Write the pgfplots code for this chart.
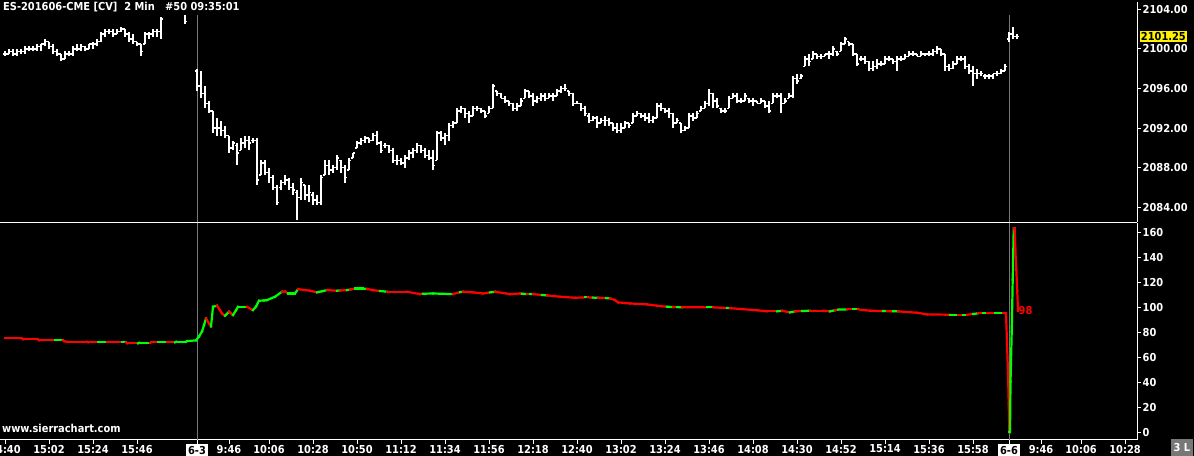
\documentclass[border=0pt]{standalone}
\usepackage{pgfplots}
\pgfplotsset{compat=1.18}
\usepackage{pgfplotstable}
\usepackage{fontspec}
\setmainfont{DejaVu Sans Condensed}
\definecolor{sgray}{RGB}{120,120,120}
\definecolor{lgreen}{RGB}{0,255,0}
\definecolor{lred}{RGB}{255,0,0}

\pgfplotstableread{
x o h l c
5 2099.50 2099.75 2099.25 2099.50
9 2099.50 2100.00 2099.50 2099.75
13 2099.75 2100.00 2099.25 2099.50
17 2099.50 2100.00 2099.25 2099.75
21 2099.75 2100.00 2099.50 2099.75
25 2099.75 2100.25 2099.50 2100.00
29 2100.00 2100.25 2099.75 2100.00
33 2100.00 2100.25 2099.75 2100.00
37 2100.00 2100.50 2099.75 2100.25
41 2100.25 2100.50 2099.75 2100.50
45 2100.50 2101.00 2100.25 2100.75
49 2100.75 2100.75 2100.00 2100.25
53 2100.25 2100.50 2099.50 2099.75
57 2099.75 2100.00 2099.25 2099.50
61 2099.50 2099.50 2098.75 2099.00
65 2099.00 2099.75 2099.00 2099.50
69 2099.50 2099.75 2099.25 2099.50
73 2099.50 2100.25 2099.25 2100.00
77 2100.00 2100.50 2099.75 2100.00
81 2100.00 2100.50 2099.75 2100.25
85 2100.25 2100.25 2099.75 2100.00
89 2100.00 2100.50 2100.00 2100.50
93 2100.50 2100.75 2100.00 2100.50
97 2100.50 2101.00 2100.25 2100.75
101 2100.75 2101.75 2100.75 2101.50
105 2101.50 2102.00 2101.25 2101.75
109 2101.75 2102.00 2101.50 2101.75
113 2101.75 2102.00 2101.25 2101.50
117 2101.50 2102.00 2101.50 2101.75
121 2101.75 2102.25 2101.75 2102.00
125 2102.00 2102.00 2101.25 2101.50
129 2101.50 2101.75 2100.75 2101.00
133 2101.00 2101.50 2100.50 2100.75
137 2100.75 2100.75 2100.25 2100.50
141 2100.50 2100.50 2099.25 2099.75
145 2100.50 2101.75 2100.50 2101.50
149 2101.50 2101.75 2101.00 2101.50
153 2101.50 2102.00 2101.25 2101.75
157 2101.75 2102.00 2101.25 2101.75
161 2101.75 2103.25 2101.00 2103.00
165 2104.25 2105.00 2103.75 2104.50
169 2104.50 2105.50 2104.00 2105.00
173 2105.00 2105.25 2103.75 2104.00
177 2104.50 2105.50 2104.25 2105.00
181 2104.75 2105.00 2103.75 2104.00
185 2103.50 2104.00 2102.50 2102.75
189 2104.00 2104.75 2103.75 2104.50
193 2104.50 2105.00 2104.00 2104.75
197 2097.75 2098.00 2095.75 2096.25
201 2096.25 2097.75 2095.00 2095.50
205 2095.50 2096.25 2094.00 2094.50
209 2094.50 2094.75 2093.50 2093.75
213 2093.75 2093.75 2091.50 2092.00
217 2092.00 2093.00 2091.25 2092.00
221 2092.00 2092.75 2091.25 2091.75
225 2091.75 2092.25 2091.00 2091.25
229 2091.25 2091.25 2089.50 2090.00
233 2090.00 2090.75 2089.75 2090.50
237 2090.25 2090.50 2088.25 2089.50
241 2089.75 2091.00 2089.75 2090.50
245 2090.50 2091.25 2090.00 2090.75
249 2090.75 2091.25 2089.75 2090.50
253 2090.75 2091.00 2090.50 2090.75
257 2090.75 2091.00 2086.25 2086.75
261 2087.25 2088.75 2087.25 2088.50
265 2088.50 2088.75 2087.25 2087.50
269 2087.50 2088.00 2086.50 2087.00
273 2087.00 2087.25 2085.75 2086.00
277 2086.00 2086.25 2084.25 2084.50
281 2086.00 2086.75 2085.75 2086.50
285 2086.50 2087.25 2086.25 2086.75
289 2086.75 2087.00 2085.75 2086.00
293 2086.00 2086.50 2085.25 2085.75
297 2085.50 2085.75 2082.75 2085.00
301 2085.00 2087.00 2084.75 2086.50
305 2086.25 2086.25 2084.75 2085.25
309 2085.25 2086.25 2084.50 2085.50
313 2085.25 2085.50 2084.25 2084.75
317 2084.75 2085.25 2084.25 2084.50
321 2084.50 2087.25 2084.25 2087.00
325 2087.25 2088.75 2087.25 2088.25
329 2088.25 2088.75 2087.25 2087.75
333 2087.75 2088.25 2087.50 2088.00
337 2088.00 2089.25 2087.75 2089.00
341 2088.75 2088.75 2087.50 2088.00
345 2088.00 2088.25 2086.50 2087.00
349 2087.75 2089.00 2087.75 2088.75
353 2089.00 2089.50 2089.00 2089.50
357 2090.00 2090.75 2090.00 2090.50
361 2090.50 2091.00 2090.25 2090.75
365 2090.75 2091.25 2090.50 2091.00
369 2091.00 2091.00 2090.50 2090.75
373 2090.75 2091.50 2090.75 2091.25
377 2091.25 2091.75 2090.25 2090.50
381 2090.50 2090.75 2089.50 2089.75
385 2090.25 2090.50 2090.00 2090.25
389 2090.25 2090.25 2089.50 2089.75
393 2089.75 2090.00 2088.50 2088.75
397 2088.75 2089.25 2088.25 2088.75
401 2088.75 2089.00 2088.25 2088.50
405 2088.50 2089.25 2088.00 2089.00
409 2089.00 2089.75 2088.75 2089.50
413 2089.50 2090.00 2089.00 2089.75
417 2089.75 2090.50 2089.50 2090.25
421 2090.25 2090.25 2089.50 2089.75
425 2089.75 2090.00 2089.00 2089.25
429 2089.25 2089.75 2088.75 2089.00
433 2089.00 2089.75 2087.75 2088.25
437 2088.75 2091.75 2088.75 2091.50
441 2091.50 2091.75 2090.75 2091.00
445 2091.00 2091.50 2090.25 2091.25
449 2091.25 2092.50 2090.75 2092.25
453 2092.25 2092.75 2092.00 2092.50
457 2092.50 2094.00 2092.50 2093.75
461 2093.75 2094.25 2093.50 2094.00
465 2094.00 2094.00 2093.00 2093.50
469 2093.50 2093.75 2092.50 2093.25
473 2093.25 2094.25 2093.25 2094.00
477 2094.00 2094.25 2093.75 2094.00
481 2094.00 2094.00 2093.50 2093.75
485 2093.75 2093.75 2093.00 2093.25
489 2093.50 2094.25 2093.50 2094.00
493 2094.00 2096.50 2094.00 2096.25
497 2095.75 2095.75 2095.25 2095.50
501 2095.50 2095.50 2095.00 2095.00
505 2095.00 2095.25 2094.50 2094.75
509 2094.75 2094.75 2094.25 2094.50
513 2094.50 2094.50 2093.75 2094.00
517 2094.00 2094.50 2093.75 2094.25
521 2094.25 2095.00 2094.25 2094.75
525 2095.00 2096.00 2095.00 2095.75
529 2095.75 2095.75 2095.00 2095.25
533 2095.25 2095.50 2094.25 2094.75
537 2094.75 2095.25 2094.50 2095.00
541 2095.00 2095.50 2094.75 2095.25
545 2095.25 2095.50 2094.75 2095.00
549 2095.00 2095.50 2095.00 2095.25
553 2095.25 2095.50 2094.75 2095.25
557 2095.25 2096.00 2095.25 2095.75
561 2095.75 2096.25 2095.50 2096.00
565 2096.00 2096.50 2095.75 2096.00
569 2095.75 2095.75 2095.25 2095.50
573 2095.50 2095.50 2094.25 2094.50
577 2094.50 2094.75 2094.50 2094.50
581 2094.50 2094.50 2093.75 2094.00
585 2094.00 2094.25 2093.25 2093.50
589 2093.25 2093.50 2092.50 2092.75
593 2092.75 2093.25 2092.75 2093.00
597 2093.00 2093.25 2092.00 2092.50
601 2092.50 2093.00 2092.50 2092.75
605 2092.75 2093.25 2092.25 2092.75
609 2092.75 2093.00 2092.25 2092.50
613 2092.50 2092.50 2091.75 2092.00
617 2092.00 2092.50 2091.50 2091.75
621 2091.75 2092.50 2091.50 2092.00
625 2092.00 2092.75 2092.00 2092.50
629 2092.50 2092.50 2092.00 2092.25
633 2092.50 2093.50 2092.50 2093.25
637 2093.25 2093.75 2093.25 2093.50
641 2093.50 2093.50 2093.00 2093.25
645 2093.25 2093.50 2092.75 2093.00
649 2093.00 2093.50 2092.50 2092.75
653 2092.75 2093.25 2092.50 2093.00
657 2093.00 2094.50 2093.00 2094.25
661 2094.25 2094.50 2093.75 2094.00
665 2094.00 2094.00 2093.50 2093.75
669 2093.75 2094.00 2093.00 2093.50
673 2093.50 2093.50 2092.00 2092.50
677 2092.50 2093.00 2092.50 2092.75
681 2092.50 2092.50 2091.50 2091.75
685 2091.75 2092.25 2091.75 2092.00
689 2092.00 2093.50 2092.00 2093.25
693 2093.25 2093.50 2092.75 2093.00
697 2093.00 2093.75 2093.00 2093.50
701 2093.75 2094.25 2093.75 2094.00
705 2094.00 2094.75 2094.00 2094.50
709 2094.50 2096.00 2094.25 2095.50
713 2095.50 2095.50 2094.00 2094.75
717 2094.75 2095.00 2094.00 2094.25
721 2094.00 2094.00 2093.50 2093.75
725 2093.75 2094.00 2093.50 2093.75
729 2094.00 2095.25 2094.00 2095.00
733 2095.00 2095.50 2095.00 2095.25
737 2095.25 2095.50 2094.50 2094.75
741 2094.75 2095.00 2094.50 2094.75
745 2094.75 2095.50 2094.75 2095.25
749 2095.00 2095.00 2094.50 2094.75
753 2094.75 2095.00 2094.25 2094.75
757 2094.75 2094.75 2094.50 2094.50
761 2094.50 2095.00 2094.50 2094.75
765 2094.75 2094.75 2094.00 2094.25
769 2094.25 2094.75 2093.50 2093.75
773 2094.50 2095.50 2094.50 2095.25
777 2095.25 2095.50 2095.00 2095.25
781 2095.25 2095.50 2093.50 2094.50
785 2094.50 2095.00 2094.50 2094.75
789 2095.00 2095.50 2095.00 2095.25
793 2095.25 2097.25 2095.00 2097.00
797 2097.00 2097.50 2096.50 2096.75
801 2097.00 2097.50 2097.00 2097.25
805 2098.25 2099.25 2098.25 2099.00
809 2099.00 2099.50 2098.25 2098.75
813 2099.00 2099.75 2099.00 2099.50
817 2099.50 2099.50 2099.00 2099.25
821 2099.25 2099.50 2099.00 2099.25
825 2099.25 2099.50 2099.25 2099.50
829 2099.50 2099.75 2099.00 2099.50
833 2099.50 2100.25 2099.25 2100.00
837 2099.75 2099.75 2099.25 2099.50
841 2099.75 2100.75 2099.75 2100.50
845 2100.50 2101.25 2100.50 2101.00
849 2100.75 2100.75 2100.25 2100.50
853 2100.50 2100.50 2099.25 2099.50
857 2099.50 2099.50 2098.25 2098.50
861 2099.00 2099.25 2098.75 2099.00
865 2099.00 2099.25 2098.50 2098.75
869 2098.75 2098.75 2097.75 2098.00
873 2098.00 2098.75 2097.75 2098.25
877 2098.25 2099.00 2098.00 2098.50
881 2098.50 2098.75 2098.25 2098.50
885 2098.50 2099.25 2098.50 2099.00
889 2099.00 2099.25 2098.75 2099.00
893 2099.00 2099.00 2098.50 2098.75
897 2098.75 2099.25 2097.75 2099.00
901 2099.00 2099.25 2098.75 2099.00
905 2099.00 2099.50 2099.00 2099.25
909 2099.25 2099.75 2099.25 2099.50
913 2099.50 2099.75 2099.25 2099.50
917 2099.50 2099.50 2099.25 2099.25
921 2099.25 2099.75 2099.25 2099.50
925 2099.50 2099.50 2099.25 2099.50
929 2099.50 2099.75 2099.25 2099.50
933 2099.50 2100.00 2099.25 2099.75
937 2099.75 2100.25 2099.50 2100.00
941 2100.00 2100.00 2099.25 2099.50
945 2099.50 2099.50 2097.75 2098.25
949 2098.25 2098.50 2097.75 2098.00
953 2098.00 2098.75 2098.00 2098.50
957 2098.50 2099.25 2098.50 2099.00
961 2099.00 2099.25 2098.75 2099.00
965 2099.00 2099.25 2098.00 2098.25
969 2098.25 2098.50 2097.50 2097.75
973 2097.75 2098.25 2096.25 2097.50
977 2097.50 2098.00 2097.00 2097.50
981 2097.50 2097.75 2097.25 2097.50
985 2097.25 2097.50 2097.00 2097.25
989 2097.25 2097.50 2097.00 2097.25
993 2097.25 2097.50 2097.00 2097.50
997 2097.50 2097.75 2097.25 2097.50
1001 2097.50 2098.00 2097.50 2097.75
1005 2097.75 2098.50 2097.75 2098.25
1009 2101.00 2101.75 2100.75 2101.50
1013 2101.50 2102.25 2101.00 2101.25
1017 2101.25 2101.50 2101.00 2101.25
}\bars

\pgfplotstableread{
x v g
5 75.5 0
22 75.5 0
23 74.7 0
38 74.7 0
39 73.9 0
55 73.9 1
63 73.9 0
64 73.3 0
67 72.8 0
87 72.8 0
88 72.3 0
98 72.3 1
107 72.3 0
122 72.3 1
126 72.3 0
127 71.5 0
138 71.5 1
139 72.0 1
150 72.0 0
151 72.3 0
158 72.3 1
167 72.3 0
175 72.3 1
176 72.8 1
186 72.8 1
187 73.3 1
196 73.9 1
199 77.0 1
202 81.0 1
204 86.0 1
206 91.5 0
209 87.5 0
211 85.0 1
213 100.8 1
217 101.6 0
220 98.0 0
222 95.5 0
225 93.6 1
229 96.8 0
231 95.5 0
233 94.1 1
236 98.0 1
238 100.8 1
247 100.8 0
253 98.1 1
256 101.0 1
259 105.6 1
264 105.8 1
267 106.1 1
275 108.8 1
282 112.8 0
285 113.0 0
288 111.4 1
295 111.4 1
298 114.9 0
310 113.6 0
317 112.3 1
322 113.2 1
327 114.1 0
337 113.6 1
340 113.8 0
347 114.1 1
350 114.5 0
355 115.4 1
363 115.4 1
367 115.0 0
373 114.1 0
380 113.4 1
387 112.8 0
407 112.8 0
420 110.9 0
423 111.2 1
433 111.4 1
453 110.9 0
460 112.5 1
463 112.8 0
473 112.3 0
483 111.4 0
490 112.3 1
495 112.8 0
510 110.9 0
520 111.4 0
522 111.2 1
527 111.0 0
530 111.0 1
533 110.9 0
542 110.2 1
547 109.9 0
560 108.8 0
575 108.0 0
585 108.3 1
588 108.3 0
593 108.1 1
598 108.0 0
606 107.7 1
610 107.5 0
615 106.1 0
618 104.3 0
630 103.4 0
647 102.7 0
657 101.6 0
667 100.8 1
673 100.6 0
677 100.5 1
682 100.4 0
707 100.3 1
713 100.3 0
727 99.8 1
730 99.7 0
740 99.0 0
758 97.9 0
767 97.1 0
777 97.1 1
782 97.5 0
790 96.3 1
795 97.1 0
802 97.4 1
810 97.6 0
823 97.6 0
830 97.1 1
835 98.0 0
838 98.5 1
847 98.7 0
853 98.7 1
858 98.7 0
870 97.6 0
883 97.4 1
887 97.3 0
893 97.2 1
898 97.1 0
917 96.0 0
927 94.7 0
950 94.4 1
958 94.4 0
963 94.4 1
967 94.4 0
973 95.0 1
978 95.5 0
983 95.5 1
987 95.5 0
995 95.5 1
1003 95.5 0
1006 95.5 0
1007 71.4 0
1008 47.4 0
1008.7 23.4 0
1009.3 0.3 1
1010 0.3 1
1010.5 40.8 1
1011.7 80.8 1
1012.7 122.4 1
1013.7 163.4 0
1014.7 163.4 0
1015.3 147.4 0
1016.3 130.0 0
1017.2 113.6 0
1018 97.6 0
}\ind

\newcommand{\lblfont}{\bfseries\fontsize{11}{13}\selectfont}

\begin{document}
\begin{tikzpicture}[x=1bp,y=1bp]
\fill[black] (0,0) rectangle (1194,456);
\begin{pgfinterruptboundingbox}
\clip (0,0) rectangle (1194,456);

% ---------------- price panel (y axis = price - 2080) ----------------
\begin{axis}[
  at={(0,236)}, anchor=south west, scale only axis,
  width=1137bp, height=220bp,
  xmin=0, xmax=1137, ymin=2.485, ymax=24.707,
  axis x line*=bottom, axis y line*=right,
  axis line style={-, white, line width=1bp},
  xtick=\empty,
  ytick={4,8,12,16,20,24},
  yticklabels={2084.00,2088.00,2092.00,2096.00,2100.00,2104.00},
  ytick align=outside, major tick length=4bp,
  tick style={white, line width=1bp},
  yticklabel style={text=white, font=\lblfont, anchor=west, inner sep=1.5bp},
  extra x ticks={197,1009}, extra x tick labels={},
  extra x tick style={grid=major, major tick length=0bp, major grid style={sgray, line width=0.8bp}},
  clip mode=individual,
]
\addplot[draw=none, mark=none, forget plot,
  error bars/.cd, y dir=plus, y explicit, error mark=none,
  error bar style={draw=white, line width=2bp}]
  table[x=x, y expr=\thisrow{l}-2080, y error expr=\thisrow{h}-\thisrow{l}] {\bars};
\addplot[draw=none, mark=none, forget plot,
  error bars/.cd, x dir=minus, x fixed=2, error mark=none,
  error bar style={draw=white, line width=1.5bp}]
  table[x=x, y expr=\thisrow{o}-2080] {\bars};
\addplot[draw=none, mark=none, forget plot,
  error bars/.cd, x dir=plus, x fixed=2, error mark=none,
  error bar style={draw=white, line width=1.5bp}]
  table[x=x, y expr=\thisrow{c}-2080] {\bars};
\node[fill=yellow, text=black, font=\lblfont, inner sep=1.2bp, anchor=west] at (axis cs:1139.5,21.25) {2101.25};
\end{axis}

% ---------------- indicator panel ----------------
\begin{axis}[
  at={(0,13)}, anchor=south west, scale only axis,
  width=1137bp, height=217bp,
  xmin=0, xmax=1137, ymin=-5.6, ymax=168,
  axis x line*=bottom, axis y line*=right,
  axis line style={-, white, line width=1bp},
  ytick={0,20,40,60,80,100,120,140,160},
  yticklabels={0,20,40,60,80,100,120,140,160},
  xtick={5,49,93,137,229,269,313,357,401,445,489,533,577,621,665,709,753,797,841,885,929,973,1041,1081,1125},
  xticklabels={14:40,15:02,15:24,15:46,9:46,10:06,10:28,10:50,11:12,11:34,11:56,12:18,12:40,13:02,13:24,13:46,14:08,14:30,14:52,15:14,15:36,15:58,9:46,10:06,10:28},
  tick align=outside, major tick length=4bp,
  tick style={white, line width=1bp},
  yticklabel style={text=white, font=\lblfont, anchor=west, inner sep=1.5bp},
  xticklabel style={text=white, font=\lblfont, anchor=north, inner sep=1bp},
  extra x ticks={197,1009}, extra x tick labels={6-3,6-6},
  extra x tick style={grid=major, major grid style={sgray, line width=0.8bp},
     xticklabel style={fill=white, text=black, inner xsep=2bp, inner ysep=2.5bp}},
  colormap={rg}{rgb255=(255,0,0) rgb255=(0,255,0)},
  point meta min=0, point meta max=1,
  clip mode=individual,
]
\addplot[mesh, shader=flat corner, point meta=explicit, line width=2.2bp, line cap=rect]
  table[x=x, y=v, meta=g] {\ind};
\node[text=lred, font=\lblfont, anchor=west, inner sep=0] at (axis cs:1018.5,98) {98};
\end{axis}

% title band and texts
\fill[black] (0,441) rectangle (1136.4,456);
\node[anchor=north west, inner sep=0, text=white, font=\lblfont] at (3,454.5)
  {ES-201606-CME [CV]\ \ 2 Min\ \ \ \#50 09:35:01};
\node[anchor=west, inner sep=0, text=white, font=\bfseries\fontsize{11}{13}\selectfont] at (2,28)
  {www.sierrachart.com};
\node[anchor=south east, fill=sgray, text=white, font=\lblfont, minimum width=22bp, minimum height=17bp, inner sep=0] at (1193,0) {3 L};
\end{pgfinterruptboundingbox}
\end{tikzpicture}
\end{document}
